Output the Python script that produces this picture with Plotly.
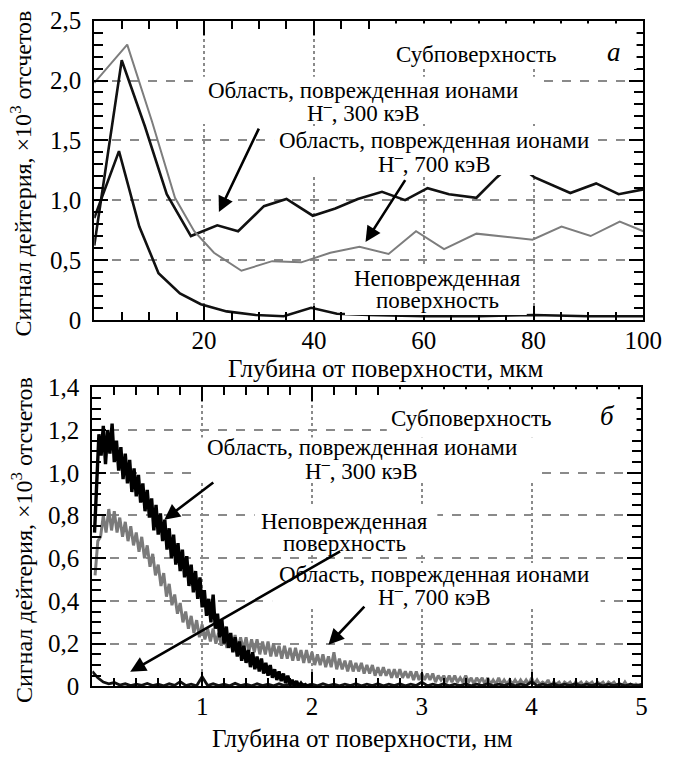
import plotly.graph_objects as go

W, H = 675, 765
FONT = "Liberation Serif"

# ---------------- Panel (a): depth in micrometres ----------------
a_x_300 = [0, 5.0, 9.2, 13.2, 17.6, 22.4, 26.2, 30.9, 35.0, 39.8, 43.9, 48.0, 52.4, 56.6,
           60.7, 64.6, 69.6, 73.3, 76.5, 80.2, 86.7, 91.4, 95.5, 100]
a_y_300 = [0.62, 2.17, 1.62, 1.05, 0.70, 0.79, 0.74, 0.95, 1.01, 0.87, 0.93, 1.01, 1.07, 1.00,
           1.10, 1.05, 1.02, 1.19, 1.32, 1.19, 1.06, 1.14, 1.05, 1.09]

a_x_700 = [0, 6.0, 10.5, 14.7, 18.2, 21.8, 26.8, 32.4, 37.7, 43.0, 48.3, 53.6, 58.6, 63.7,
           69.6, 79.8, 85.1, 90.4, 95.7, 100]
a_y_700 = [1.98, 2.30, 1.66, 1.02, 0.74, 0.56, 0.41, 0.49, 0.48, 0.56, 0.61, 0.55, 0.74, 0.59,
           0.72, 0.67, 0.78, 0.70, 0.82, 0.74]

a_x_und = [0, 4.5, 8.2, 11.7, 15.6, 19.4, 24.1, 29.4, 34.5, 39.5, 44.2, 50, 60, 70, 80, 90, 100]
a_y_und = [0.85, 1.41, 0.78, 0.39, 0.22, 0.13, 0.07, 0.04, 0.03, 0.10, 0.05, 0.04, 0.03, 0.03,
           0.04, 0.03, 0.03]

# ---------------- Panel (b): depth in nm ----------------
b_step_300, b_start_300 = 0.02, 0.02
b_y_300 = [0.72, 0.98, 1.18, 1.08, 1.22, 1.04, 1.20, 1.09, 1.23, 1.05,
           1.15, 1.01, 1.12, 0.97, 1.09, 0.95, 1.06, 0.91, 1.02, 0.89,
           0.99, 0.86, 0.95, 0.82, 0.92, 0.79, 0.88, 0.73, 0.85, 0.71,
           0.81, 0.68, 0.78, 0.64, 0.74, 0.60, 0.71, 0.57, 0.67, 0.54,
           0.64, 0.51, 0.61, 0.47, 0.57, 0.44, 0.54, 0.41, 0.51, 0.37,
           0.45, 0.33, 0.41, 0.30, 0.43, 0.27, 0.34, 0.23, 0.31, 0.20,
           0.28, 0.18, 0.25, 0.16, 0.23, 0.14, 0.21, 0.12, 0.19, 0.11,
           0.17, 0.09, 0.16, 0.08, 0.14, 0.07, 0.13, 0.06, 0.11, 0.05,
           0.10, 0.04, 0.08, 0.03, 0.07, 0.025, 0.06, 0.015, 0.05, 0.01,
           0.03, 0.005, 0.025, 0.0, 0.015, 0.0, 0.008, 0.0, 0.005, 0.0]

b_step_700, b_start_700 = 0.025, 0.025
b_y_700 = [0.52, 0.68, 0.70, 0.80, 0.72, 0.83, 0.73, 0.82, 0.72, 0.79,
           0.70, 0.77, 0.68, 0.75, 0.66, 0.72, 0.63, 0.70, 0.60, 0.66,
           0.56, 0.62, 0.52, 0.57, 0.47, 0.53, 0.42, 0.48, 0.38, 0.43,
           0.34, 0.39, 0.30, 0.35, 0.27, 0.33, 0.25, 0.31, 0.23, 0.29,
           0.22, 0.27, 0.21, 0.27, 0.20, 0.25, 0.19, 0.25, 0.18, 0.24,
           0.18, 0.24, 0.17, 0.23, 0.17, 0.23, 0.16, 0.22, 0.16, 0.22,
           0.15, 0.21, 0.15, 0.21, 0.14, 0.20, 0.14, 0.19, 0.13, 0.19,
           0.13, 0.18, 0.12, 0.18, 0.12, 0.17, 0.11, 0.17, 0.11, 0.16,
           0.10, 0.15, 0.10, 0.15, 0.09, 0.14, 0.09, 0.16, 0.08, 0.13,
           0.08, 0.12, 0.07, 0.12, 0.07, 0.11, 0.07, 0.11, 0.06, 0.10,
           0.06, 0.10, 0.05, 0.09, 0.05, 0.09, 0.05, 0.08, 0.04, 0.08,
           0.04, 0.08, 0.04, 0.07, 0.04, 0.07, 0.03, 0.07, 0.03, 0.06,
           0.03, 0.06, 0.03, 0.06, 0.02, 0.05, 0.03, 0.05, 0.02, 0.05,
           0.02, 0.05, 0.02, 0.04, 0.02, 0.05, 0.02, 0.04, 0.01, 0.04,
           0.02, 0.04, 0.01, 0.04, 0.01, 0.03, 0.01, 0.04, 0.01, 0.03,
           0.01, 0.03, 0.01, 0.03, 0.01, 0.03, 0.01, 0.03, 0.01, 0.04,
           0.01, 0.03, 0.01, 0.02, 0.01, 0.03, 0.00, 0.02, 0.01, 0.02,
           0.00, 0.02, 0.01, 0.02, 0.00, 0.02, 0.01, 0.02, 0.00, 0.02,
           0.01, 0.02, 0.00, 0.02, 0.01, 0.02, 0.00, 0.02, 0.01, 0.02,
           0.00, 0.01, 0.00, 0.02, 0.00, 0.01, 0.00, 0.01, 0.00, 0.01]

b_step_und, b_start_und = 0.05, 0.0
b_y_und = [0.07, 0.04, 0.02, 0.012, 0.018, 0.006, 0.012, 0.004, 0.010, 0.005,
           0.014, 0.004, 0.010, 0.003, 0.012, 0.005, 0.022, 0.004, 0.010, 0.003,
           0.045, 0.004, 0.012, 0.004, 0.010, 0.003, 0.014, 0.004, 0.010, 0.003,
           0.012, 0.004, 0.010, 0.003, 0.012, 0.004, 0.010, 0.003, 0.012, 0.004,
           0.010, 0.003, 0.012, 0.004, 0.010, 0.003, 0.010, 0.004, 0.012, 0.003,
           0.010, 0.004, 0.012, 0.003, 0.010, 0.004, 0.012, 0.003, 0.010, 0.004,
           0.020, 0.003, 0.010, 0.004, 0.012, 0.003, 0.010, 0.004, 0.012, 0.003,
           0.010, 0.004, 0.012, 0.003, 0.010, 0.004, 0.012, 0.003, 0.010, 0.004,
           0.022, 0.003, 0.010, 0.004, 0.012, 0.003, 0.010, 0.004, 0.012, 0.003,
           0.010, 0.004, 0.012, 0.003, 0.010, 0.004, 0.012, 0.003, 0.010, 0.004, 0.008]

a_yticks = [0, 0.5, 1.0, 1.5, 2.0, 2.5]
a_yticktext = ["0", "0,5", "1,0", "1,5", "2,0", "2,5"]
a_xticks = [20, 40, 60, 80, 100]
b_yticks = [0, 0.2, 0.4, 0.6, 0.8, 1.0, 1.2, 1.4]
b_yticktext = ["0", "0,2", "0,4", "0,6", "0,8", "1,0", "1,2", "1,4"]
b_xticks = [1, 2, 3, 4, 5]

ytitle = "Сигнал дейтерия, ×10<sup>3</sup> отсчетов"
lbl_300 = ["Область, поврежденная ионами", "H<sup>–</sup>, 300 кэВ"]
lbl_700 = ["Область, поврежденная ионами", "H<sup>–</sup>, 700 кэВ"]
lbl_und = ["Неповрежденная", "поверхность"]
lbl_sub = "Субповерхность"


def grid(start, step, n):
    return [round(start + step * i, 4) for i in range(n)]


BLACK = "#111111"
GRAY = "#7d7d7d"

fig = go.Figure()
# panel a
fig.add_trace(go.Scatter(x=a_x_und, y=a_y_und, mode="lines", xaxis="x", yaxis="y",
                         line=dict(color=BLACK, width=2.6)))
fig.add_trace(go.Scatter(x=a_x_300, y=a_y_300, mode="lines", xaxis="x", yaxis="y",
                         line=dict(color=BLACK, width=2.6)))
fig.add_trace(go.Scatter(x=a_x_700, y=a_y_700, mode="lines", xaxis="x", yaxis="y",
                         line=dict(color=GRAY, width=2.0)))
# panel b
fig.add_trace(go.Scatter(x=grid(b_start_700, b_step_700, len(b_y_700)), y=b_y_700, mode="lines",
                         xaxis="x2", yaxis="y2", line=dict(color="#7a7a7a", width=3.0)))
fig.add_trace(go.Scatter(x=grid(b_start_und, b_step_und, len(b_y_und)), y=b_y_und, mode="lines",
                         xaxis="x2", yaxis="y2", line=dict(color=BLACK, width=2.8)))
fig.add_trace(go.Scatter(x=grid(b_start_300, b_step_300, len(b_y_300)), y=b_y_300, mode="lines",
                         xaxis="x2", yaxis="y2", line=dict(color="#000000", width=3.4)))

tickfont = dict(family=FONT, size=25, color="black")
common = dict(showline=True, linecolor="black", linewidth=2, mirror="allticks",
              ticks="inside", ticklen=14, tickwidth=2, tickcolor="black",
              showgrid=True, gridcolor="#8a8a8a", gridwidth=1.5, zeroline=False,
              tickfont=tickfont, fixedrange=True)

fig.update_layout(
    width=W, height=H, margin=dict(l=0, r=0, t=0, b=0),
    paper_bgcolor="white", plot_bgcolor="white", showlegend=False,
    xaxis=dict(domain=[97 / W, 662 / W], anchor="y", range=[0, 100], tickvals=a_xticks,
               griddash="dot", ticklabelstandoff=-3,
               minor=dict(dtick=5, tick0=0, ticks="inside", ticklen=8, tickwidth=2,
                          tickcolor="black", showgrid=False), **common),
    yaxis=dict(domain=[1 - 318 / H, 1 - 8 / H], anchor="x", range=[0, 2.5], tickvals=a_yticks,
               ticktext=a_yticktext, griddash="dash", ticklabelstandoff=6,
               minor=dict(dtick=0.1, tick0=0, ticks="inside", ticklen=9, tickwidth=2,
                          tickcolor="black", showgrid=False), **common),
    xaxis2=dict(domain=[95 / W, 660 / W], anchor="y2", range=[0, 5], tickvals=b_xticks,
                griddash="dot", ticklabelstandoff=-3,
                minor=dict(dtick=0.2, tick0=0, ticks="inside", ticklen=8, tickwidth=2,
                           tickcolor="black", showgrid=False), **common),
    yaxis2=dict(domain=[1 - 698 / H, 1 - 388 / H], anchor="x2", range=[0, 1.4], tickvals=b_yticks,
                ticktext=b_yticktext, griddash="dash", ticklabelstandoff=6,
                minor=dict(dtick=0.05, tick0=0, ticks="inside", ticklen=9, tickwidth=2,
                           tickcolor="black", showgrid=False), **common),
)

# white label boxes (pixels: x0, y0, x1, y1) drawn above traces and grid
boxes = [(398, 11, 655, 58), (205, 66, 552, 115), (282, 118, 612, 168), (355, 262, 542, 313),
         (398, 390, 655, 440), (203, 440, 552, 487), (262, 512, 450, 562), (280, 570, 618, 617)]
shapes = [dict(type="rect", xref="paper", yref="paper", x0=b[0] / W, x1=b[2] / W,
               y0=1 - b[3] / H, y1=1 - b[1] / H, fillcolor="white", line=dict(width=0),
               layer="above") for b in boxes]

ann = []


def arrow(xr, yr, head, tail):
    ann.append(dict(xref=xr, yref=yr, axref=xr, ayref=yr, x=head[0], y=head[1],
                    ax=tail[0], ay=tail[1], text="", showarrow=True, arrowhead=2,
                    arrowsize=1.2, arrowwidth=2.6, arrowcolor="black", standoff=0))


def label(text, cx, cy, size=23, italic=False):
    t = f"<i>{text}</i>" if italic else text
    ann.append(dict(xref="paper", yref="paper", x=cx / W, y=1 - cy / H, text=t,
                    showarrow=False, xanchor="center", yanchor="middle",
                    font=dict(family=FONT, size=size, color="black")))


# arrows panel a (head, tail in data coordinates)
arrow("x", "y", (22.7, 0.90), (30.1, 1.61))
arrow("x", "y", (49.4, 0.65), (56.8, 1.18))
# arrows panel b
arrow("x2", "y2", (0.655, 0.78), (1.115, 0.96))
arrow("x2", "y2", (0.345, 0.068), (2.27, 0.636))
arrow("x2", "y2", (2.15, 0.195), (2.49, 0.38))

# text panel a
label(lbl_sub, 490, 43)
label("а", 632, 40, size=27, italic=True)
label(lbl_300[0], 373, 80)
label(lbl_300[1], 374, 102)
label(lbl_700[0], 447, 132)
label(lbl_700[1], 447, 155)
label(lbl_und[0], 450, 275)
label(lbl_und[1], 450, 298)
# text panel b
label(lbl_sub, 485, 420)
label("б", 625, 418, size=27, italic=True)
label(lbl_300[0], 372, 450)
label(lbl_300[1], 372, 473)
label(lbl_und[0], 354, 527)
label(lbl_und[1], 354, 550)
label(lbl_700[0], 447, 582)
label(lbl_700[1], 447, 604)

# axis titles
for cy in (166, 546):
    ann.append(dict(xref="paper", yref="paper", x=22 / W, y=1 - cy / H, text=ytitle,
                    textangle=-90, showarrow=False, xanchor="center", yanchor="middle",
                    font=dict(family=FONT, size=24, color="black")))
ann.append(dict(xref="paper", yref="paper", x=397 / W, y=1 - 368 / H,
                text="Глубина от поверхности, мкм", showarrow=False,
                xanchor="center", yanchor="middle", font=dict(family=FONT, size=25, color="black")))
ann.append(dict(xref="paper", yref="paper", x=373 / W, y=1 - 752 / H,
                text="Глубина от поверхности, нм", showarrow=False,
                xanchor="center", yanchor="middle", font=dict(family=FONT, size=25, color="black")))

fig.update_layout(annotations=ann, shapes=shapes)
fig.write_html("out.html")
